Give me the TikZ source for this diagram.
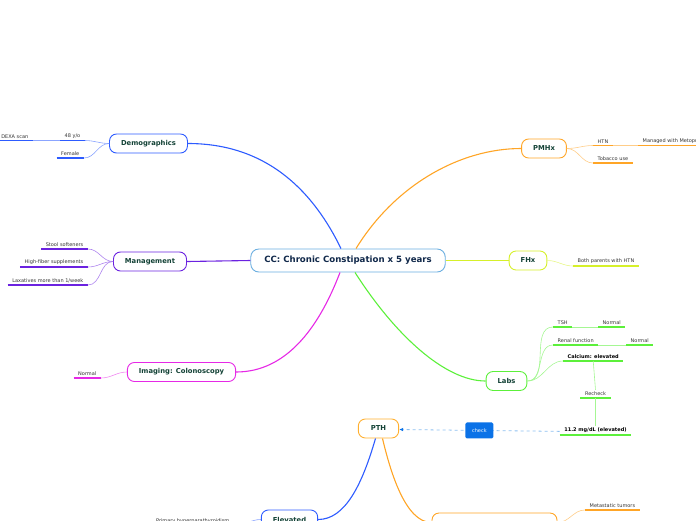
\documentclass[tikz,border=0pt]{standalone}
\usepackage{fontspec}
\setmainfont{DejaVu Sans}
\usetikzlibrary{positioning, calc, arrows.meta}

\definecolor{ccblue}{HTML}{6AAEE0}
\definecolor{demoblue}{HTML}{2D5BFF}
\definecolor{mgmtpurple}{HTML}{6B22E0}
\definecolor{imgmagenta}{HTML}{E629E6}
\definecolor{pmhxorange}{HTML}{FFA526}
\definecolor{fhxyellow}{HTML}{D6F02A}
\definecolor{labsgreen}{HTML}{5CF03A}
\definecolor{pthorange}{HTML}{FFB030}
\definecolor{checkblue}{HTML}{0B72E7}
\definecolor{dashblue}{HTML}{8EC0F0}
\definecolor{topictext}{HTML}{134236}
\definecolor{cctext}{HTML}{10284A}
\definecolor{leaftext}{HTML}{333333}

\begin{document}
\begin{tikzpicture}[x=1pt, y=-1pt,
  every node/.style={font=\fontsize{5}{6}\selectfont},
  topic/.style={rectangle, rounded corners=7pt, draw=#1, line width=0.9pt, fill=white,
    minimum height=19pt, inner xsep=11.5pt, text=topictext, font=\bfseries\fontsize{6.8}{8}\selectfont},
  leaf/.style={inner xsep=4.5pt, inner ysep=2pt, text=leaftext,
    append after command={(\tikzlastnode.south west) edge[draw=#1, line width=1.5pt] (\tikzlastnode.south east)}},
  branch/.style={draw=#1, line width=1.1pt},
  twig/.style={draw=#1!55, line width=0.6pt},
  checkbox/.style={rectangle, rounded corners=1.5pt, fill=checkblue, text=white,
    minimum width=28pt, minimum height=16pt, inner sep=1pt},
  dashline/.style={dashblue, line width=0.8pt, dashed,
    -{Latex[length=4pt, width=3.5pt, color=checkblue]}}
]
\useasboundingbox (0,0) rectangle (696,520);
\clip (0,0) rectangle (696,520);

% ===== CENTRAL TOPIC =====
\node[topic=ccblue, inner xsep=13.5pt, text=cctext, font=\bfseries\fontsize{8.6}{10}\selectfont,
  minimum height=23pt, rounded corners=8pt] (cc) at (348,260.5) {CC: Chronic Constipation x 5 years};

% ===== MAIN TOPICS =====
\node[topic=demoblue] (demo) at (148.5,143.5) {Demographics};
\node[topic=mgmtpurple] (mgmt) at (150,261.5) {Management};
\node[topic=imgmagenta] (img) at (181.5,372) {Imaging: Colonoscopy};
\node[topic=pmhxorange] (pmhx) at (544,148.5) {PMHx};
\node[topic=fhxyellow] (fhx) at (528,260.5) {FHx};
\node[topic=labsgreen] (labs) at (506.5,381) {Labs};

\draw[branch=demoblue] ([xshift=-7pt]cc.north) .. controls (315,195) and (270,143.5) .. (demo.east);
\draw[branch=mgmtpurple] (cc.west) -- (mgmt.east);
\draw[branch=imgmagenta] ([xshift=-8pt]cc.south) .. controls (318,330) and (285,372) .. (img.east);
\draw[branch=pmhxorange] ([xshift=8pt]cc.north) .. controls (395,185) and (460,148.5) .. (pmhx.west);
\draw[branch=fhxyellow] (cc.east) -- (fhx.west);
\draw[branch=labsgreen] ([xshift=7pt]cc.south) .. controls (395,335) and (445,381) .. (labs.west);

% demographics
\node[leaf=demoblue, anchor=south east] (age) at (85,140.5) {48 y/o};
\node[leaf=demoblue, anchor=south east] (dexa) at (33,140.5) {DEXA scan};
\node[leaf=demoblue, anchor=south east] (female) at (84,158) {Female};
\draw[twig=demoblue] (demo.west) to[out=180, in=0] (age.south east);
\draw[twig=demoblue] (demo.west) to[out=180, in=0] (female.south east);
\draw[twig=demoblue] (age.south west) -- (dexa.south east);

% management
\node[leaf=mgmtpurple, anchor=south east] (soft) at (88,249) {Stool softeners};
\node[leaf=mgmtpurple, anchor=south east] (fiber) at (88,267) {High-fiber supplements};
\node[leaf=mgmtpurple, anchor=south east] (laxa) at (88,285) {Laxatives more than 1/week};
\foreach \n in {soft, fiber, laxa}
  \draw[twig=mgmtpurple] (mgmt.west) to[out=180, in=0] (\n.south east);

% imaging
\node[leaf=imgmagenta, anchor=south east] (colo) at (101,378) {Normal};
\draw[twig=imgmagenta] (img.west) to[out=180, in=0] (colo.south east);

% PMHx
\node[leaf=pmhxorange, anchor=south west] (htn) at (593,145.5) {HTN};
\node[leaf=pmhxorange, anchor=south west] (meto) at (638,145.5) {Managed with Metoprolol};
\node[leaf=pmhxorange, anchor=south west] (tob) at (593,163) {Tobacco use};
\draw[twig=pmhxorange] (pmhx.east) to[out=0, in=180] (htn.south west);
\draw[twig=pmhxorange] (pmhx.east) to[out=0, in=180] (tob.south west);
\draw[twig=pmhxorange] (htn.south east) -- (meto.south west);

% FHx
\node[leaf=fhxyellow, anchor=south west] (fam) at (573,266) {Both parents with HTN};
\draw[twig=fhxyellow] (fhx.east) to[out=0, in=180] (fam.south west);

% labs
\node[leaf=labsgreen, anchor=south west] (tsh) at (553,327) {TSH};
\node[leaf=labsgreen, anchor=south west] (tshn) at (598,327) {Normal};
\node[leaf=labsgreen, anchor=south west] (renal) at (553,345) {Renal function};
\node[leaf=labsgreen, anchor=south west] (renaln) at (626,345) {Normal};
\node[leaf=labsgreen, anchor=south west, text=black, font=\bfseries\fontsize{5}{6}\selectfont] (calc) at (563,361) {Calcium: elevated};
\node[leaf=labsgreen, anchor=south] (recheck) at (595.5,398) {Recheck};
\node[leaf=labsgreen, anchor=south, text=black, font=\bfseries\fontsize{5}{6}\selectfont] (val) at (595.5,435) {11.2 mg/dL (elevated)};
\foreach \n in {tsh, renal, calc}
  \draw[twig=labsgreen] (labs.east) to[out=0, in=180] (\n.south west);
\draw[twig=labsgreen] (tsh.south east) -- (tshn.south west);
\draw[twig=labsgreen] (renal.south east) -- (renaln.south west);
\draw[twig=labsgreen] (calc.south) -- (recheck.north);
\draw[twig=labsgreen] (recheck.south) -- (val.north);

% ===== PTH =====
\node[topic=pthorange, inner xsep=12.5pt] (pth) at (378.5,428.5) {PTH};
\draw[dashline] ([yshift=-1pt]val.west) -- node[checkbox] (chk) {check} ([yshift=-1pt]pth.east);

\node[topic=demoblue] (elev) at (289.5,519.5) {Elevated};
\node[topic=pmhxorange, minimum width=125pt] (low) at (494.5,522.5) {};
\draw[branch=demoblue] ([xshift=-3pt]pth.south) .. controls (362,485) and (345,519.5) .. (elev.east);
\draw[branch=pmhxorange] ([xshift=4pt]pth.south) .. controls (390,470) and (405,522.5) .. (low.west);

\node[leaf=demoblue, anchor=south east] (prim) at (234,526) {Primary hyperparathyroidism};
\draw[twig=demoblue] (elev.west) to[out=180, in=0] (prim.south east);
\node[leaf=pmhxorange, anchor=south west] (meta) at (585,510) {Metastatic tumors};
\draw[twig=pmhxorange] (low.east) to[out=0, in=180] (meta.south west);
\end{tikzpicture}
\end{document}
